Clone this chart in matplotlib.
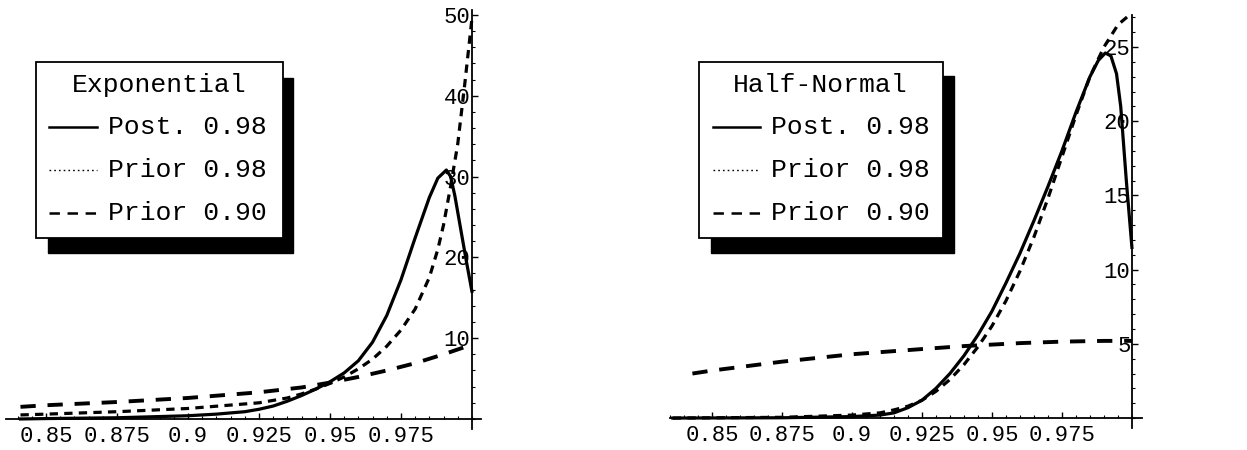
import matplotlib
matplotlib.use("Agg")
import matplotlib.pyplot as plt
from matplotlib.patches import Rectangle
from matplotlib.lines import Line2D
from matplotlib.ticker import MultipleLocator, FixedLocator

plt.rcParams['font.family'] = ['Liberation Mono', 'DejaVu Sans Mono']
plt.rcParams['lines.scale_dashes'] = False

# ---------------- data ----------------
# Left panel: Exponential
exp_post_x = [0.841, 0.85, 0.875, 0.9, 0.91, 0.92, 0.925, 0.93, 0.935, 0.94, 0.945, 0.95,
              0.955, 0.96, 0.965, 0.97, 0.975, 0.98, 0.985, 0.988, 0.991, 0.9925, 0.994,
              0.996, 0.998, 1.0]
exp_post_y = [0.0, 0.05, 0.15, 0.4, 0.6, 0.9, 1.2, 1.6, 2.2, 2.9, 3.7, 4.6,
              5.7, 7.2, 9.5, 12.8, 17.2, 22.4, 27.4, 29.8, 30.8, 30.0, 27.6,
              23.6, 19.6, 15.8]
exp_p98_x = [0.841, 0.85, 0.875, 0.9, 0.925, 0.935, 0.94, 0.945, 0.95, 0.955, 0.96, 0.965,
             0.97, 0.975, 0.98, 0.985, 0.988, 0.99, 0.9925, 0.995, 0.9975, 1.0]
exp_p98_y = [0.5, 0.6, 0.9, 1.3, 2.0, 2.6, 3.1, 3.7, 4.4, 5.2, 6.2, 7.4,
             9.0, 11.0, 13.6, 17.5, 21.0, 24.0, 28.8, 34.0, 41.5, 49.5]
exp_p90_x = [0.841, 0.85, 0.875, 0.9, 0.925, 0.94, 0.95, 0.96, 0.97, 0.98, 0.99, 1.0]
exp_p90_y = [1.5, 1.7, 2.1, 2.6, 3.3, 3.9, 4.5, 5.2, 6.0, 6.9, 8.0, 9.2]

# Right panel: Half-Normal
hn_post_x = [0.836, 0.875, 0.9, 0.91, 0.915, 0.92, 0.925, 0.93, 0.935, 0.94, 0.945, 0.95,
             0.955, 0.96, 0.965, 0.97, 0.975, 0.98, 0.985, 0.988, 0.9905, 0.9925, 0.9945,
             0.996, 0.998, 1.0]
hn_post_y = [0.0, 0.02, 0.1, 0.2, 0.35, 0.7, 1.2, 2.0, 3.0, 4.2, 5.6, 7.2,
             9.1, 11.1, 13.3, 15.6, 18.0, 20.6, 23.0, 24.1, 24.6, 24.4, 23.2,
             21.0, 16.0, 11.5]
hn_p98_x = [0.836, 0.875, 0.9, 0.91, 0.915, 0.92, 0.925, 0.93, 0.935, 0.94, 0.945, 0.95,
            0.955, 0.96, 0.965, 0.97, 0.975, 0.98, 0.985, 0.99, 0.995, 1.0]
hn_p98_y = [0.0, 0.05, 0.2, 0.35, 0.55, 0.8, 1.2, 1.8, 2.6, 3.6, 4.8, 6.2,
            7.9, 9.9, 12.2, 14.8, 17.6, 20.4, 23.0, 25.0, 26.5, 27.3]
hn_p90_x = [0.843, 0.85, 0.875, 0.9, 0.925, 0.94, 0.95, 0.96, 0.975, 0.99, 1.0]
hn_p90_y = [3.0, 3.2, 3.8, 4.3, 4.65, 4.85, 4.95, 5.05, 5.15, 5.2, 5.2]

x_ticks = [0.85, 0.875, 0.9, 0.925, 0.95, 0.975]
x_tick_labels = ["0.85", "0.875", "0.9", "0.925", "0.95", "0.975"]
left_y_ticks = [10, 20, 30, 40, 50]
right_y_ticks = [5, 10, 15, 20, 25]
legend_labels = ["Post. 0.98", "Prior 0.98", "Prior 0.90"]
titles = ["Exponential", "Half-Normal"]

# ---------------- figure ----------------
W, H = 1247, 450
fig = plt.figure(figsize=(W / 100, H / 100), dpi=100)


def px(x, y):
    return x / W, 1 - y / H


LW = 2.3
SHORT = (0, (6, 4.5))
LONG = (0, (11, 8.5))


def setup(ax, xlim, ylim, yticks, yminor):
    ax.set_xlim(*xlim)
    ax.set_ylim(*ylim)
    for s in ['top', 'right']:
        ax.spines[s].set_visible(False)
    ax.spines['left'].set_position(('data', 1.0))
    ax.spines['bottom'].set_position(('data', 0.0))
    for s in ['left', 'bottom']:
        ax.spines[s].set_linewidth(1.3)
    ax.xaxis.set_major_locator(FixedLocator(x_ticks))
    ax.set_xticklabels(x_tick_labels)
    ax.xaxis.set_minor_locator(MultipleLocator(0.005))
    ax.yaxis.set_major_locator(FixedLocator(yticks))
    ax.set_yticklabels([str(t) for t in yticks])
    ax.yaxis.set_minor_locator(MultipleLocator(yminor))
    ax.tick_params(which='major', direction='in', length=4, width=1.0,
                   labelsize=16, pad=5)
    ax.tick_params(axis='y', which='major', pad=1)
    ax.tick_params(which='minor', direction='in', length=2, width=0.8)
    ax.patch.set_visible(False)


# Left axes
axL = fig.add_axes([6 / W, 21 / H, 475 / W, 419 / H])
axL.plot(exp_post_x, exp_post_y, color='black', lw=LW)
axL.plot(exp_p98_x, exp_p98_y, color='black', lw=LW, linestyle=SHORT)
axL.plot(exp_p90_x, exp_p90_y, color='black', lw=LW + 0.5, linestyle=LONG)
setup(axL, (0.8359, 1.0032), (-1.24, 50.6), left_y_ticks, 2)

# Right axes
axR = fig.add_axes([670 / W, 22 / H, 472 / W, 413 / H])
axR.plot(hn_post_x, hn_post_y, color='black', lw=LW)
axR.plot(hn_p98_x, hn_p98_y, color='black', lw=LW, linestyle=SHORT)
axR.plot(hn_p90_x, hn_p90_y, color='black', lw=LW + 0.5, linestyle=LONG)
setup(axR, (0.835, 1.0036), (-0.67, 27.16), right_y_ticks, 1)


def legend(box, shadow, title_cx, sample_x0, sample_x1, text_x, title):
    (bx0, by0, bx1, by1) = box
    (sx0, sy0, sx1, sy1) = shadow
    x0, y1 = px(sx0, sy1)
    fig.add_artist(Rectangle((x0, y1), (sx1 - sx0) / W, (sy1 - sy0) / H,
                             transform=fig.transFigure, facecolor='black',
                             edgecolor='black', zorder=10))
    x0, y1 = px(bx0, by1)
    fig.add_artist(Rectangle((x0, y1), (bx1 - bx0) / W, (by1 - by0) / H,
                             transform=fig.transFigure, facecolor='white',
                             edgecolor='black', linewidth=1.3, zorder=11))
    tx, ty = px(title_cx, 85)
    fig.text(tx, ty, title, ha='center', va='center', fontsize=19, zorder=12)
    rows = [127, 170, 213]
    styles = [dict(linestyle='-', lw=1.8),
              dict(linestyle=(0, (1.2, 2.2)), lw=1.0),
              dict(linestyle=(0, (7.5, 5.5)), lw=1.8)]
    for yrow, lab, st in zip(rows, legend_labels, styles):
        xa, ya = px(sample_x0, yrow)
        xb, _ = px(sample_x1, yrow)
        fig.add_artist(Line2D([xa, xb], [ya, ya], transform=fig.transFigure,
                              color='black', zorder=12, **st))
        xt, yt = px(text_x, yrow)
        fig.text(xt, yt, lab, ha='left', va='center', fontsize=19, zorder=12)


legend((36, 62, 283, 238), (48, 78, 293, 253), 159, 49, 97, 108, titles[0])
legend((699, 62, 943, 238), (711, 76, 954, 253), 820, 713, 760, 771, titles[1])

fig.savefig("out.png", dpi=100)
